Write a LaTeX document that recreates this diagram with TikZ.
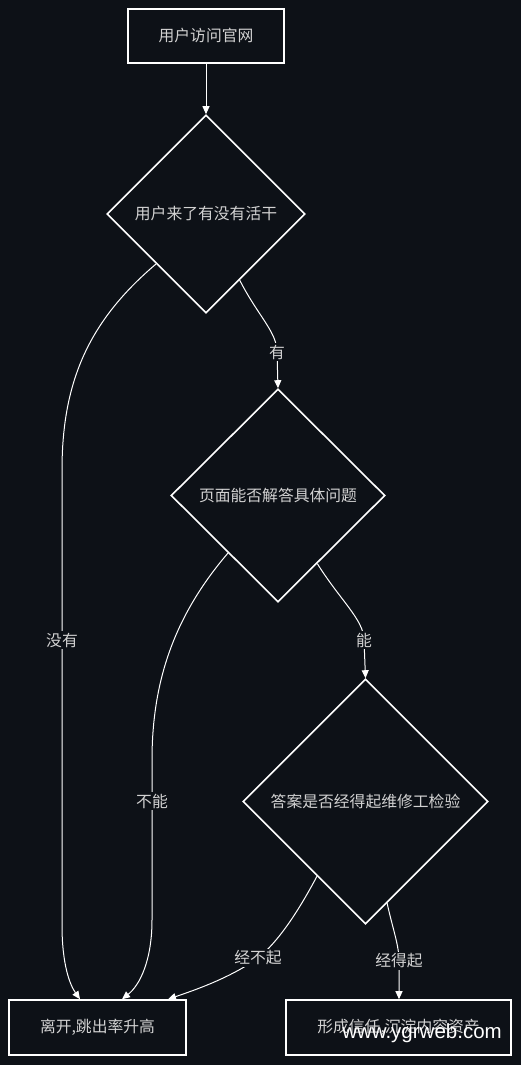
\documentclass[tikz,border=0pt]{standalone}
\usepackage{fontspec}
\setmainfont{Noto Sans CJK SC}
\newfontfamily\wmfont{Liberation Sans}
\usetikzlibrary{shapes.geometric,arrows.meta}
\definecolor{bg}{HTML}{0D1117}
\definecolor{fg}{HTML}{D2D2D2}
\begin{document}
\begin{tikzpicture}[x=1pt,y=-1pt,
  txt/.style={text=fg,font=\fontsize{15.8}{18}\selectfont},
  box/.style={txt,draw=white,line width=1.6pt,fill=bg,inner sep=0pt},
  dia/.style={txt,diamond,aspect=1,draw=white,line width=1.6pt,fill=bg,inner sep=0pt},
  edge/.style={draw=white,line width=1pt,-{Triangle[length=8pt,width=7pt]}},
  lbl/.style={txt,fill=bg,inner sep=2pt}]
\fill[bg] (0,0) rectangle (521,1065);
\useasboundingbox (0,0) rectangle (521,1065);
\node[box,minimum width=156pt,minimum height=54pt] (start) at (206,36) {用户访问官网};
\node[dia,minimum width=198pt,minimum height=198pt] (d1) at (206,214) {用户来了有没有活干};
\node[dia,minimum width=214pt,minimum height=213pt] (d2) at (278,495.5) {页面能否解答具体问题};
\node[dia,minimum width=245pt,minimum height=245pt] (d3) at (365.5,801.5) {答案是否经得起维修工检验};
\node[box,minimum width=177pt,minimum height=55pt] (leave) at (97.5,1027.5) {离开,跳出率升高};
\node[box,minimum width=225pt,minimum height=55pt] (trust) at (398.5,1027.5) {形成信任,沉淀内容资产};
\draw[edge] (start.south) -- (d1.north);
\draw[edge] (d1.-63) .. controls (258,316) and (277,332) .. (277,352) node[lbl]{有} -- (d2.north);
\draw[edge] (d2.-60) .. controls (340,600) and (364,620) .. (364,640) node[lbl]{能} -- (d3.north);
\draw[edge] (d1.-135) .. controls (90,320) and (62,380) .. (62,470) -- (62,640) node[lbl]{没有} -- (62,925) .. controls (62,965) and (70,985) .. (80,0 |- leave.north);
\draw[edge] (d2.-131) .. controls (175,615) and (152,680) .. (152,760) -- (152,801) node[lbl]{不能} -- (152,920) .. controls (152,960) and (140,985) .. (122,0 |- leave.north);
\draw[edge] (d3.-123) .. controls (298,912) and (278,942) .. (258,958) node[lbl]{经不起} .. controls (230,978) and (195,990) .. (168,0 |- leave.north);
\draw[edge] (d3.-78) .. controls (393,930) and (399,945) .. (399,961) node[lbl]{经得起} -- (399,0 |- trust.north);
\node[text=white,font=\wmfont\fontsize{20.5}{24}\selectfont,inner sep=0pt] (wm) at (422,1033) {www.ygrweb.com};
\end{tikzpicture}
\end{document}
